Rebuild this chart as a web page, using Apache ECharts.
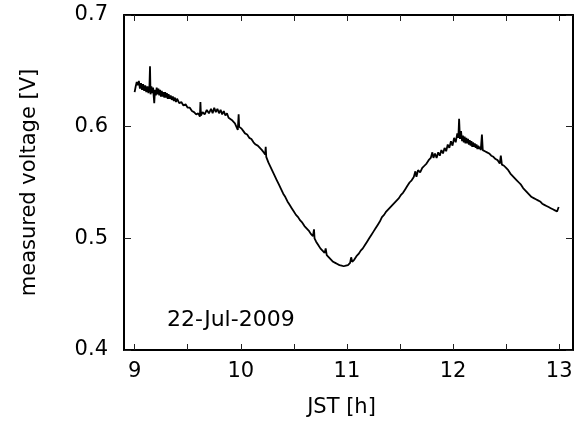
<!DOCTYPE html>
<html>
<head>
<meta charset="utf-8">
<script src="https://cdn.jsdelivr.net/npm/echarts@6/dist/echarts.min.js"></script>
<style>html,body{margin:0;padding:0;background:#fff}#c{width:578px;height:423px}</style>
</head>
<body>
<div id="c"></div>
<script>
// time [h JST], measured voltage [V]
const timeH = [
9.000,9.010,9.020,9.030,9.040,9.050,9.060,9.070,9.080,9.090,9.100,9.110,9.120,9.130,9.140,9.145,
9.150,9.158,9.166,9.174,9.180,9.185,9.192,9.200,9.208,9.216,9.224,9.232,9.240,9.248,9.256,9.264,9.272,9.280,9.288,9.296,
9.304,9.312,9.320,9.330,9.340,9.350,9.360,9.370,9.380,9.390,9.400,9.420,9.440,9.460,9.480,
9.500,9.520,9.540,9.560,9.580,9.600,9.615,9.620,9.625,9.640,9.660,9.680,9.700,9.720,9.735,9.750,9.765,9.780,9.795,9.810,
9.825,9.840,9.855,9.870,9.885,9.900,9.915,9.930,9.945,9.960,9.972,9.980,9.985,9.995,10.010,10.025,10.040,10.060,10.080,10.100,
10.120,10.140,10.160,10.180,10.200,10.215,10.230,10.235,10.240,10.260,10.280,10.300,10.320,10.340,10.360,10.380,10.400,10.420,10.440,10.460,
10.480,10.500,10.520,10.540,10.560,10.580,10.600,10.620,10.640,10.660,10.680,10.690,10.695,10.710,10.730,10.750,10.770,10.790,10.800,10.810,
10.830,10.850,10.870,10.890,10.910,10.930,10.950,10.970,10.990,11.010,11.030,11.040,11.050,11.070,11.090,11.110,11.130,11.150,11.170,11.190,
11.210,11.230,11.250,11.270,11.290,11.310,11.330,11.350,11.370,11.390,11.410,11.430,11.450,11.470,11.490,11.510,11.530,11.550,11.570,11.590,
11.610,11.630,11.645,11.655,11.670,11.690,11.710,11.730,11.750,11.770,11.790,11.805,11.815,11.830,11.845,11.860,11.875,11.890,11.905,11.920,
11.935,11.950,11.965,11.980,11.995,12.010,12.025,12.040,12.050,12.057,12.065,12.075,
12.085,12.093,12.101,12.109,12.117,12.125,12.133,12.141,12.149,12.157,12.165,12.173,12.181,12.189,12.197,12.205,12.213,12.221,12.229,12.237,
12.245,12.253,12.261,12.272,12.280,12.290,12.300,12.320,12.340,12.360,12.380,12.400,12.420,12.440,12.450,12.460,12.480,12.500,12.520,12.540,12.560,12.580,
12.600,12.620,12.640,12.660,12.680,12.700,12.720,12.740,12.760,12.780,12.800,12.820,12.840,12.860,12.880,12.900,12.920,12.940,12.960,12.980,
12.990,12.995
];
const voltage = [
0.631,0.636,0.640,0.637,0.641,0.634,0.639,0.633,0.638,0.632,0.637,0.631,0.636,0.630,0.637,0.654,
0.629,0.636,0.630,0.635,0.627,0.621,0.633,0.628,0.635,0.629,0.634,0.628,0.633,0.627,0.632,0.627,0.631,0.626,0.631,0.626,
0.630,0.625,0.629,0.625,0.628,0.624,0.627,0.623,0.626,0.622,0.625,0.621,0.622,0.619,0.620,
0.617,0.617,0.614,0.613,0.611,0.612,0.609,0.622,0.610,0.613,0.611,0.615,0.612,0.616,0.612,0.617,0.613,0.616,0.612,0.615,
0.611,0.614,0.610,0.612,0.608,0.609,0.606,0.606,0.603,0.602,0.597,0.611,0.600,0.599,0.598,0.596,0.594,0.593,0.590,0.589,
0.586,0.584,0.583,0.581,0.579,0.577,0.575,0.582,0.573,0.568,0.564,0.560,0.556,0.552,0.548,0.544,0.540,0.537,0.533,0.530,
0.527,0.524,0.521,0.519,0.516,0.514,0.511,0.509,0.507,0.504,0.502,0.508,0.500,0.497,0.494,0.491,0.489,0.487,0.491,0.485,
0.483,0.481,0.479,0.478,0.477,0.476,0.4755,0.475,0.4755,0.476,0.478,0.483,0.479,0.481,0.484,0.486,0.489,0.491,0.494,0.497,
0.500,0.503,0.506,0.509,0.512,0.515,0.519,0.521,0.524,0.526,0.528,0.530,0.532,0.534,0.536,0.539,0.541,0.544,0.547,0.550,
0.552,0.555,0.560,0.555,0.561,0.559,0.563,0.565,0.567,0.570,0.572,0.577,0.572,0.576,0.572,0.577,0.574,0.579,0.576,0.581,
0.578,0.584,0.581,0.587,0.583,0.590,0.586,0.594,0.590,0.607,0.589,0.596,
0.587,0.592,0.586,0.591,0.585,0.590,0.585,0.589,0.584,0.588,0.583,0.587,0.582,0.586,0.582,0.585,0.581,0.584,0.580,0.583,
0.580,0.582,0.579,0.593,0.579,0.580,0.578,0.577,0.576,0.574,0.573,0.571,0.570,0.567,0.574,0.566,0.565,0.563,0.561,0.558,0.556,0.554,
0.552,0.550,0.548,0.545,0.543,0.541,0.539,0.537,0.536,0.535,0.534,0.533,0.531,0.530,0.529,0.528,0.527,0.526,0.525,0.524,
0.523,0.528
];
const xTickValues = [9, 9.5, 10, 10.5, 11, 11.5, 12, 12.5, 13];
const xLabelValues = [9, 10, 11, 12, 13];
const dateLabel = '22-Jul-2009';

const seriesData = timeH.map((t, i) => [t, voltage[i]]);
const FONT = 'DejaVu Sans';
const lineStyle = { color: '#000', width: 2 };
const tickStyle = { color: '#222', width: 1 };

const chart = echarts.init(document.getElementById('c'), null, { renderer: 'canvas' });
chart.setOption({
  animation: false,
  backgroundColor: '#fff',
  grid: { left: 124, right: 5, top: 15, bottom: 67, containLabel: false },
  xAxis: [
    {
      type: 'value', min: 8.9, max: 13.13, position: 'bottom',
      name: 'JST [h]', nameLocation: 'middle', nameGap: 47,
      nameTextStyle: { fontFamily: FONT, fontSize: 21, color: '#000', padding: [0, 14, 0, 0] },
      axisLine: { show: true, onZero: false, lineStyle: lineStyle },
      axisTick: { show: true, inside: true, length: 6, customValues: xTickValues, lineStyle: tickStyle },
      axisLabel: { customValues: xLabelValues, margin: 11, fontFamily: FONT, fontSize: 21, color: '#000' },
      splitLine: { show: false }
    },
    {
      type: 'value', min: 8.9, max: 13.13, position: 'top',
      axisLine: { show: true, onZero: false, lineStyle: lineStyle },
      axisTick: { show: true, inside: true, length: 6, customValues: xTickValues, lineStyle: tickStyle },
      axisLabel: { show: false },
      splitLine: { show: false }
    }
  ],
  yAxis: [
    {
      type: 'value', min: 0.4, max: 0.7, interval: 0.1, position: 'left',
      name: 'measured voltage [V]', nameLocation: 'middle', nameGap: 84,
      nameTextStyle: { fontFamily: FONT, fontSize: 21, color: '#000' },
      axisLine: { show: true, onZero: false, lineStyle: lineStyle },
      axisTick: { show: true, inside: true, length: 7, lineStyle: tickStyle },
      axisLabel: { margin: 16, fontFamily: FONT, fontSize: 21, color: '#000', formatter: v => v.toFixed(1) },
      splitLine: { show: false }
    },
    {
      type: 'value', min: 0.4, max: 0.7, interval: 0.1, position: 'right',
      axisLine: { show: true, onZero: false, lineStyle: lineStyle },
      axisTick: { show: true, inside: true, length: 7, lineStyle: tickStyle },
      axisLabel: { show: false },
      splitLine: { show: false }
    }
  ],
  series: [{
    type: 'line', xAxisIndex: 0, yAxisIndex: 0,
    data: seriesData, showSymbol: false, symbol: 'none',
    lineStyle: { color: '#000', width: 1.8 }
  }],
  graphic: [{
    type: 'text', left: 167, top: 309,
    style: { text: dateLabel, font: '22px "DejaVu Sans"', fill: '#000' }
  }]
});
</script>
</body>
</html>
